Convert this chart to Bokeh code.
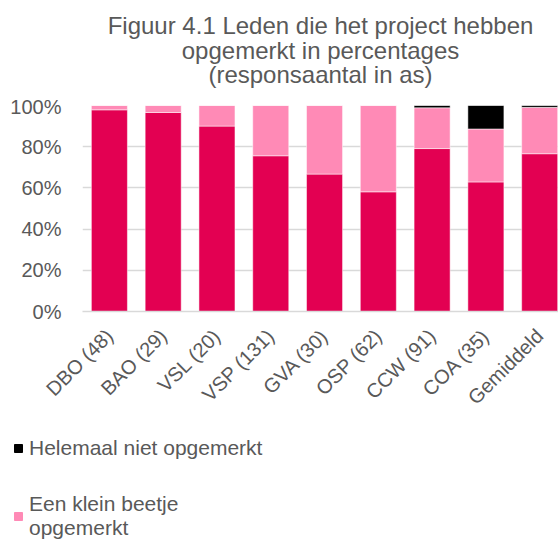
from bokeh.plotting import figure
from bokeh.models import (ColumnDataSource, Range1d, FixedTicker, PrintfTickFormatter,
                          Legend, LegendItem, Label)
from bokeh.embed import file_html
from bokeh.resources import INLINE

categories = ["DBO (48)", "BAO (29)", "VSL (20)", "VSP (131)", "GVA (30)",
              "OSP (62)", "CCW (91)", "COA (35)", "Gemiddeld"]
duidelijk = [97.9, 96.6, 90.0, 75.6, 66.7, 58.1, 79.1, 62.9, 76.6]
klein_beetje = [2.1, 3.4, 10.0, 24.4, 33.3, 41.9, 19.8, 25.7, 22.5]
helemaal_niet = [0.0, 0.0, 0.0, 0.0, 0.0, 0.0, 1.1, 11.4, 0.9]
y_ticks = [0, 20, 40, 60, 80, 100]
title_lines = ["Figuur 4.1 Leden die het project hebben",
               "opgemerkt in percentages",
               "(responsaantal in as)"]
legend_labels = ["Helemaal niet opgemerkt", "Een klein beetje\nopgemerkt"]

FONT = "Liberation Sans"
TXT = "#595959"
RED, PINK, BLACK = "#E30052", "#FF8AB6", "#000000"


def bare(fig):
    fig.axis.visible = False
    fig.grid.visible = False
    fig.outline_line_color = None
    fig.min_border_left = fig.min_border_right = 0
    fig.min_border_top = fig.min_border_bottom = 0


# ---- header with the three centred title lines ----
head = figure(width=558, height=95, output_backend="svg", toolbar_location=None,
              x_range=Range1d(0, 558), y_range=Range1d(95, 0))
bare(head)
for i, line in enumerate(title_lines):
    head.add_layout(Label(x=320, y=25 + 24.5 * i, text=line, text_align="center",
                          text_baseline="alphabetic", text_font=FONT,
                          text_font_size="24px", text_color=TXT))

# ---- chart ----
xs = list(range(len(categories)))
src = ColumnDataSource(dict(x=xs, d=duidelijk, k=klein_beetje, n=helemaal_niet))

p = figure(width=558, height=330, output_backend="svg", toolbar_location=None,
           x_range=Range1d(-0.5, 8.35), y_range=Range1d(0, 100))
p.min_border_left = 82
p.min_border_right = 0
p.min_border_top = 10
p.min_border_bottom = 114
p.outline_line_color = None

rs = p.vbar_stack(["d", "k", "n"], x="x", width=0.67, source=src,
                  color=[RED, PINK, BLACK], line_color="white", line_width=0.5)

p.xgrid.grid_line_color = None
p.ygrid.grid_line_color = "#D9D9D9"
p.ygrid.grid_line_width = 1.5
p.ygrid.ticker = FixedTicker(ticks=y_ticks)

p.yaxis.ticker = FixedTicker(ticks=y_ticks)
p.yaxis.formatter = PrintfTickFormatter(format="%d%%")
p.yaxis.axis_line_color = None
p.yaxis.major_tick_line_color = None
p.yaxis.minor_tick_line_color = None
p.yaxis.major_label_text_font = FONT
p.yaxis.major_label_text_font_size = "20px"
p.yaxis.major_label_text_color = TXT
p.yaxis.major_label_standoff = 15

p.xaxis.ticker = FixedTicker(ticks=xs)
p.xaxis.major_label_overrides = {i: c for i, c in zip(xs, categories)}
p.xaxis.major_label_orientation = 0.785398
p.xaxis.axis_line_color = "#D9D9D9"
p.xaxis.axis_line_width = 1.5
p.xaxis.major_tick_line_color = None
p.xaxis.minor_tick_line_color = None
p.xaxis.major_label_text_font = FONT
p.xaxis.major_label_text_font_size = "20px"
p.xaxis.major_label_text_color = TXT
p.xaxis.major_label_standoff = 15

# ---- legend panel ----
leg = figure(width=558, height=116, output_backend="svg", toolbar_location=None,
             x_range=Range1d(0, 1), y_range=Range1d(0, 1))
bare(leg)
# swatch-only renderers for the legend (hidden; their glyphs only show in the legend)
r_niet = leg.vbar(x=[0.5], top=[1], width=1, color=BLACK, visible=False)
r_klein = leg.vbar(x=[0.5], top=[1], width=1, color=PINK, visible=False)
legend = Legend(items=[LegendItem(label=legend_labels[0], renderers=[r_niet]),
                       LegendItem(label=legend_labels[1], renderers=[r_klein])],
                location=(13, 1), orientation="vertical",
                glyph_width=10, glyph_height=10, label_standoff=6,
                label_text_font=FONT, label_text_font_size="21px", label_text_color=TXT,
                spacing=32, padding=0, margin=0, border_line_color=None,
                background_fill_alpha=0, inactive_fill_alpha=0)
leg.add_layout(legend, "center")

open("out.html", "w").write(file_html([head, p, leg], INLINE))
